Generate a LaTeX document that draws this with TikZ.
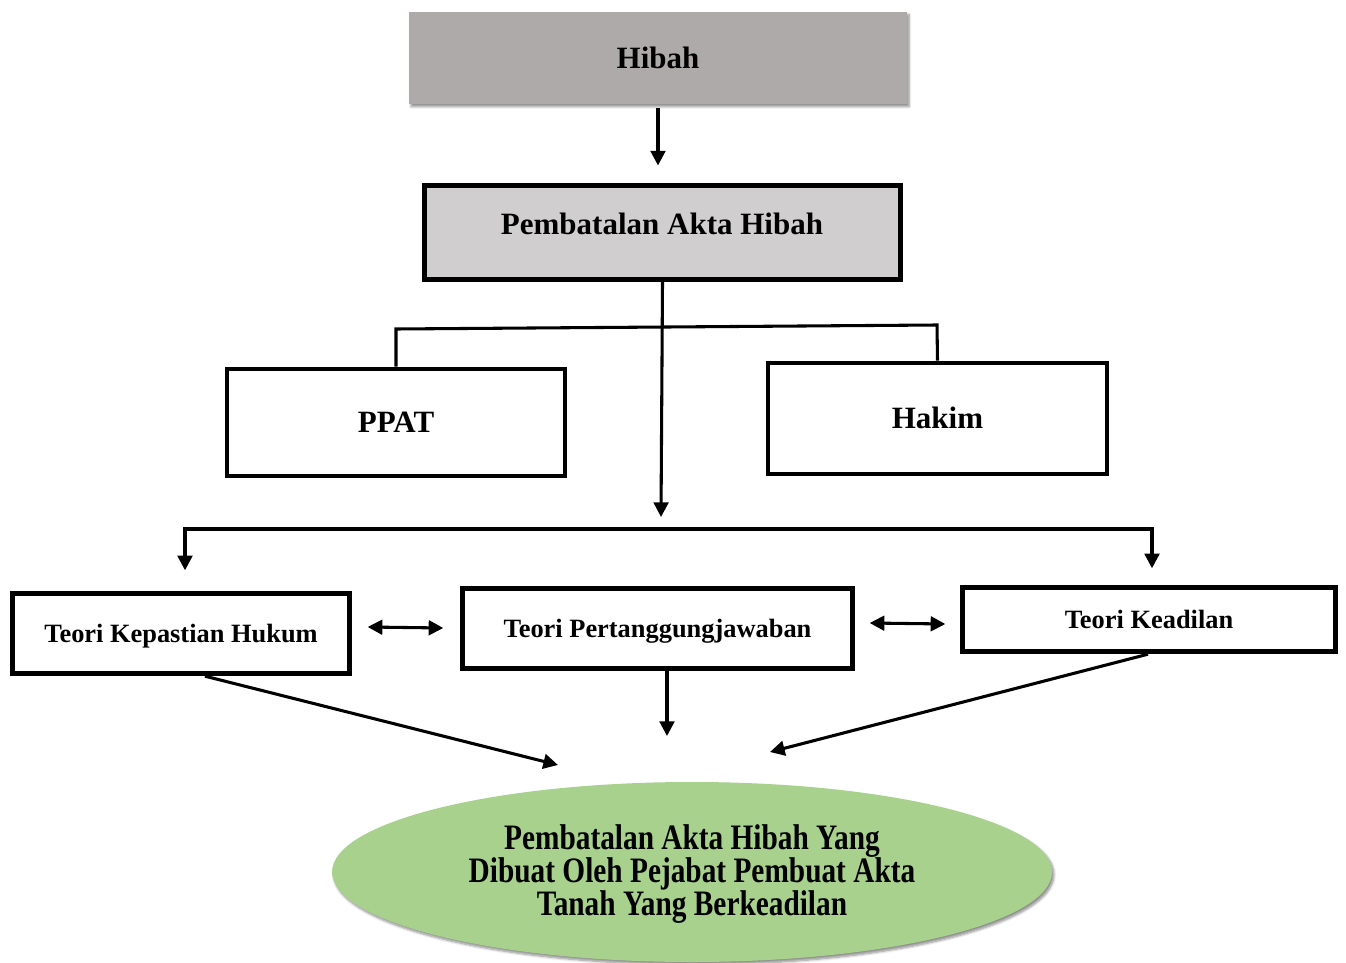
\documentclass[tikz,border=0pt]{standalone}
\usepackage{fontspec}
\setmainfont{Liberation Serif}
\usetikzlibrary{arrows.meta,shadows.blur,calc,shapes.geometric}
\definecolor{hibahgray}{HTML}{AEAAAA}
\definecolor{pahgray}{HTML}{D0CECE}
\definecolor{goalgreen}{HTML}{A9D18E}
\begin{document}
\begin{tikzpicture}[x=0.75pt,y=-0.75pt,
  tipA/.tip={Triangle[length=11pt,width=11pt]},
  arr/.style={line width=2.3pt,-tipA},
  dbl/.style={line width=2.3pt,tipA-tipA},
  ln/.style={line width=2.3pt,line join=miter},
  bigtext/.style={font=\bfseries\fontsize{23.25}{28}\selectfont,text height=15.4pt,text depth=0pt},
  bx/.style={draw,line width=4pt,rectangle,inner sep=0pt,bigtext},
  tbx/.style={draw,line width=4pt,rectangle,inner sep=0pt,
    font=\bfseries\fontsize{19.8}{24}\selectfont,text height=13.1pt,text depth=0pt},
  softshadow/.style={blur shadow={shadow xshift=1.5pt,shadow yshift=-2pt,shadow blur steps=6,shadow opacity=45}}
]
\useasboundingbox (0,0) rectangle (1346,963);

% top boxes
\node[rectangle,fill=hibahgray,minimum width=373.5pt,minimum height=69pt,inner sep=0pt,
  softshadow,bigtext] (hibah) at (658,58) {Hibah};
\node[bx,fill=pahgray,minimum width=357pt,minimum height=70.5pt] (pah) at (662.5,232.5) {};
\node[bigtext,inner sep=0pt] (pahtext) at (662,224) {Pembatalan Akta Hibah};

\node[bx,line width=3.6pt,minimum width=253.5pt,minimum height=80.25pt] (ppat) at (396,422.5) {PPAT};
\node[bx,line width=3.6pt,minimum width=254.25pt,minimum height=83.25pt] (hakim) at (937.5,418.5) {Hakim};

% theory boxes
\node[tbx,minimum width=252.75pt,minimum height=60pt] (tkh) at (181,633.5) {Teori Kepastian Hukum};
\node[tbx,minimum width=292.5pt,minimum height=60pt] (tp) at (657.5,628.5) {Teori Pertanggungjawaban};
\node[tbx,minimum width=279.75pt,minimum height=48pt] (tk) at (1149,619.5) {Teori Keadilan};

% goal ellipse
\node[ellipse,fill=goalgreen,minimum width=540pt,minimum height=135pt,inner sep=0pt,softshadow] (goal) at (692,872) {};
\node[inner sep=0pt,font=\bfseries] (goaltext) at (692,874)
  {\scalebox{1}[1.22]{\parbox{420pt}{\centering\fontsize{22}{20.57}\selectfont\lineskiplimit=-50pt
   Pembatalan Akta Hibah Yang\\ Dibuat Oleh Pejabat Pembuat Akta\\ Tanah Yang Berkeadilan}}};

% coordinates
\coordinate (bkL) at (396,329);
\coordinate (bkR) at (937,325);
\coordinate (c1) at (661,517);
\coordinate (barL) at (185,529);
\coordinate (barR) at (1152,529);
\coordinate (c2) at (667,736);
\coordinate (c3) at (558,765);
\coordinate (c4) at (770,752);

% connectors
\draw[arr,shorten <=3pt,shorten >=13pt] (hibah.south) -- (hibah.south |- pah.north);
\draw[arr] (pah.south) -- (c1);
\draw[ln] (ppat.north) -- (bkL) -- (bkR) -- (hakim.north);
\draw[dbl,line join=miter] ($(barL |- tkh.north)+(0,-20.5)$) -- (barL) -- (barR) -- ($(barR |- tk.north)+(0,-16.5)$);
\draw[dbl] ($(tkh.east)+(15.5,-6.5)$) -- ($(tp.west)+(-16.5,-0.5)$);
\draw[dbl] ($(tp.east)+(14.5,-5.5)$) -- ($(tk.west)+(-14.5,4.5)$);
\draw[arr] ($(tp.south)+(9.5,0)$) -- (c2);
\draw[arr] ($(tkh.south)+(24,0)$) -- (c3);
\draw[arr] ($(tk.south)+(-1,0)$) -- (c4);
\end{tikzpicture}
\end{document}
